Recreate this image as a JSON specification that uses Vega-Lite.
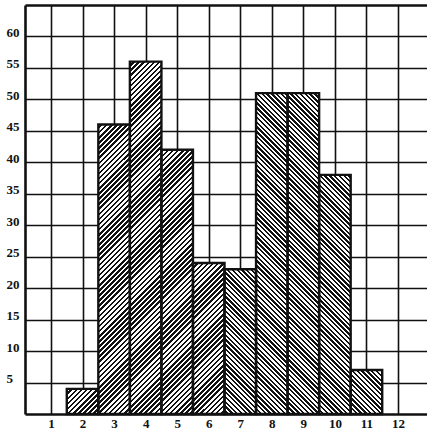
{
"$schema":"https://vega.github.io/schema/vega-lite/v6.json",
"width":402,"height":409,
"autosize":{"type":"none"},
"padding":{"left":25,"top":5,"right":0,"bottom":17},
"background":"#ffffff",
"config":{
 "view":{"stroke":null},
 "axis":{"labelFont":"Liberation Serif","labelFontWeight":"bold","labelFontSize":13,"labelColor":"#111","labelOverlap":false,"labelFlush":false,"labelBound":false,"ticks":false,"domainColor":"#111","domainWidth":2.6,"gridColor":"#111","gridOpacity":1,"gridWidth":1.6,"zindex":1},
 "axisX":{"labelPadding":3,"labelBaseline":"top"},
 "axisY":{"labelAlign":"left","labelPadding":19,"labelBaseline":"alphabetic"}
},
"resolve":{"axis":{"x":"independent","y":"independent"}},
"data":{"values":[
{"k":2,"lo":1.5,"hi":2.5,"n":4},
{"k":3,"lo":2.5,"hi":3.5,"n":46},
{"k":4,"lo":3.5,"hi":4.5,"n":56},
{"k":5,"lo":4.5,"hi":5.5,"n":42},
{"k":6,"lo":5.5,"hi":6.5,"n":24},
{"k":7,"lo":6.5,"hi":7.5,"n":23},
{"k":8,"lo":7.5,"hi":8.5,"n":51},
{"k":9,"lo":8.5,"hi":9.5,"n":51},
{"k":10,"lo":9.5,"hi":10.5,"n":38},
{"k":11,"lo":10.5,"hi":11.5,"n":7}
]},
"layer":[
{"mark":{"type":"rect","fill":"transparent","stroke":null},
 "encoding":{
  "x":{"field":"lo","type":"quantitative","scale":{"domain":[0.175,12.92],"nice":false,"zero":false},
       "axis":{"values":[1,2,3,4,5,6,7,8,9,10,11,12],"title":null,"grid":true,"labelOverlap":false}},
  "x2":{"field":"hi"},
  "y":{"field":"n","type":"quantitative","scale":{"domain":[0,65],"nice":false},
       "axis":{"values":[5,10,15,20,25,30,35,40,45,50,55,60,65],"title":null,"grid":true,"labelOverlap":false,"gridWidth":{"condition":{"test":"datum.value === 65","value":2.6},"value":1.6},"labelExpr":"datum.value === 65 ? '' : datum.label"}},
  "y2":{"datum":0}
 }},
{"transform":[{"filter":"datum.k <= 6"},{"fold":["lo","hi"],"as":["edge","xv"]}],
 "mark":{"type":"area","orient":"vertical","interpolate":"linear","fill":{"gradient":"linear","x1":0,"y1":0,"x2":0.5397,"y2":1.206,"stops":[
{"offset":0.11,"color":"#111"},{"offset":0.115,"color":"#111"},{"offset":0.115,"color":"#fff"},{"offset":0.12,"color":"#fff"},
{"offset":0.12,"color":"#111"},{"offset":0.125,"color":"#111"},{"offset":0.125,"color":"#fff"},{"offset":0.13,"color":"#fff"},
{"offset":0.13,"color":"#111"},{"offset":0.135,"color":"#111"},{"offset":0.135,"color":"#fff"},{"offset":0.14,"color":"#fff"},
{"offset":0.14,"color":"#111"},{"offset":0.145,"color":"#111"},{"offset":0.145,"color":"#fff"},{"offset":0.15,"color":"#fff"},
{"offset":0.15,"color":"#111"},{"offset":0.155,"color":"#111"},{"offset":0.155,"color":"#fff"},{"offset":0.16,"color":"#fff"},
{"offset":0.16,"color":"#111"},{"offset":0.165,"color":"#111"},{"offset":0.165,"color":"#fff"},{"offset":0.17,"color":"#fff"},
{"offset":0.17,"color":"#111"},{"offset":0.175,"color":"#111"},{"offset":0.175,"color":"#fff"},{"offset":0.18,"color":"#fff"},
{"offset":0.18,"color":"#111"},{"offset":0.185,"color":"#111"},{"offset":0.185,"color":"#fff"},{"offset":0.19,"color":"#fff"},
{"offset":0.19,"color":"#111"},{"offset":0.195,"color":"#111"},{"offset":0.195,"color":"#fff"},{"offset":0.20,"color":"#fff"},
{"offset":0.20,"color":"#111"},{"offset":0.205,"color":"#111"},{"offset":0.205,"color":"#fff"},{"offset":0.21,"color":"#fff"},
{"offset":0.21,"color":"#111"},{"offset":0.215,"color":"#111"},{"offset":0.215,"color":"#fff"},{"offset":0.22,"color":"#fff"},
{"offset":0.22,"color":"#111"},{"offset":0.225,"color":"#111"},{"offset":0.225,"color":"#fff"},{"offset":0.23,"color":"#fff"},
{"offset":0.23,"color":"#111"},{"offset":0.235,"color":"#111"},{"offset":0.235,"color":"#fff"},{"offset":0.24,"color":"#fff"},
{"offset":0.24,"color":"#111"},{"offset":0.245,"color":"#111"},{"offset":0.245,"color":"#fff"},{"offset":0.25,"color":"#fff"},
{"offset":0.25,"color":"#111"},{"offset":0.255,"color":"#111"},{"offset":0.255,"color":"#fff"},{"offset":0.26,"color":"#fff"},
{"offset":0.26,"color":"#111"},{"offset":0.265,"color":"#111"},{"offset":0.265,"color":"#fff"},{"offset":0.27,"color":"#fff"},
{"offset":0.27,"color":"#111"},{"offset":0.275,"color":"#111"},{"offset":0.275,"color":"#fff"},{"offset":0.28,"color":"#fff"},
{"offset":0.28,"color":"#111"},{"offset":0.285,"color":"#111"},{"offset":0.285,"color":"#fff"},{"offset":0.29,"color":"#fff"},
{"offset":0.29,"color":"#111"},{"offset":0.295,"color":"#111"},{"offset":0.295,"color":"#fff"},{"offset":0.30,"color":"#fff"},
{"offset":0.30,"color":"#111"},{"offset":0.305,"color":"#111"},{"offset":0.305,"color":"#fff"},{"offset":0.31,"color":"#fff"},
{"offset":0.31,"color":"#111"},{"offset":0.315,"color":"#111"},{"offset":0.315,"color":"#fff"},{"offset":0.32,"color":"#fff"},
{"offset":0.32,"color":"#111"},{"offset":0.325,"color":"#111"},{"offset":0.325,"color":"#fff"},{"offset":0.33,"color":"#fff"},
{"offset":0.33,"color":"#111"},{"offset":0.335,"color":"#111"},{"offset":0.335,"color":"#fff"},{"offset":0.34,"color":"#fff"},
{"offset":0.34,"color":"#111"},{"offset":0.345,"color":"#111"},{"offset":0.345,"color":"#fff"},{"offset":0.35,"color":"#fff"},
{"offset":0.35,"color":"#111"},{"offset":0.355,"color":"#111"},{"offset":0.355,"color":"#fff"},{"offset":0.36,"color":"#fff"},
{"offset":0.36,"color":"#111"},{"offset":0.365,"color":"#111"},{"offset":0.365,"color":"#fff"},{"offset":0.37,"color":"#fff"},
{"offset":0.37,"color":"#111"},{"offset":0.375,"color":"#111"},{"offset":0.375,"color":"#fff"},{"offset":0.38,"color":"#fff"},
{"offset":0.38,"color":"#111"},{"offset":0.385,"color":"#111"},{"offset":0.385,"color":"#fff"},{"offset":0.39,"color":"#fff"},
{"offset":0.39,"color":"#111"},{"offset":0.395,"color":"#111"},{"offset":0.395,"color":"#fff"},{"offset":0.40,"color":"#fff"},
{"offset":0.40,"color":"#111"},{"offset":0.405,"color":"#111"},{"offset":0.405,"color":"#fff"},{"offset":0.41,"color":"#fff"},
{"offset":0.41,"color":"#111"},{"offset":0.415,"color":"#111"},{"offset":0.415,"color":"#fff"},{"offset":0.42,"color":"#fff"},
{"offset":0.42,"color":"#111"},{"offset":0.425,"color":"#111"},{"offset":0.425,"color":"#fff"},{"offset":0.43,"color":"#fff"},
{"offset":0.43,"color":"#111"},{"offset":0.435,"color":"#111"},{"offset":0.435,"color":"#fff"},{"offset":0.44,"color":"#fff"},
{"offset":0.44,"color":"#111"},{"offset":0.445,"color":"#111"},{"offset":0.445,"color":"#fff"},{"offset":0.45,"color":"#fff"},
{"offset":0.45,"color":"#111"},{"offset":0.455,"color":"#111"},{"offset":0.455,"color":"#fff"},{"offset":0.46,"color":"#fff"},
{"offset":0.46,"color":"#111"},{"offset":0.465,"color":"#111"},{"offset":0.465,"color":"#fff"},{"offset":0.47,"color":"#fff"},
{"offset":0.47,"color":"#111"},{"offset":0.475,"color":"#111"},{"offset":0.475,"color":"#fff"},{"offset":0.48,"color":"#fff"},
{"offset":0.48,"color":"#111"},{"offset":0.485,"color":"#111"},{"offset":0.485,"color":"#fff"},{"offset":0.49,"color":"#fff"},
{"offset":0.49,"color":"#111"},{"offset":0.495,"color":"#111"},{"offset":0.495,"color":"#fff"},{"offset":0.50,"color":"#fff"},
{"offset":0.50,"color":"#111"},{"offset":0.505,"color":"#111"},{"offset":0.505,"color":"#fff"},{"offset":0.51,"color":"#fff"},
{"offset":0.51,"color":"#111"},{"offset":0.515,"color":"#111"},{"offset":0.515,"color":"#fff"},{"offset":0.52,"color":"#fff"},
{"offset":0.52,"color":"#111"},{"offset":0.525,"color":"#111"},{"offset":0.525,"color":"#fff"},{"offset":0.53,"color":"#fff"},
{"offset":0.53,"color":"#111"},{"offset":0.535,"color":"#111"},{"offset":0.535,"color":"#fff"},{"offset":0.54,"color":"#fff"},
{"offset":0.54,"color":"#111"},{"offset":0.545,"color":"#111"},{"offset":0.545,"color":"#fff"},{"offset":0.55,"color":"#fff"},
{"offset":0.55,"color":"#111"},{"offset":0.555,"color":"#111"},{"offset":0.555,"color":"#fff"},{"offset":0.56,"color":"#fff"},
{"offset":0.56,"color":"#111"},{"offset":0.565,"color":"#111"},{"offset":0.565,"color":"#fff"},{"offset":0.57,"color":"#fff"},
{"offset":0.57,"color":"#111"},{"offset":0.575,"color":"#111"},{"offset":0.575,"color":"#fff"},{"offset":0.58,"color":"#fff"},
{"offset":0.58,"color":"#111"},{"offset":0.585,"color":"#111"},{"offset":0.585,"color":"#fff"},{"offset":0.59,"color":"#fff"},
{"offset":0.59,"color":"#111"},{"offset":0.595,"color":"#111"},{"offset":0.595,"color":"#fff"},{"offset":0.60,"color":"#fff"},
{"offset":0.60,"color":"#111"},{"offset":0.605,"color":"#111"},{"offset":0.605,"color":"#fff"},{"offset":0.61,"color":"#fff"},
{"offset":0.61,"color":"#111"},{"offset":0.615,"color":"#111"},{"offset":0.615,"color":"#fff"},{"offset":0.62,"color":"#fff"},
{"offset":0.62,"color":"#111"},{"offset":0.625,"color":"#111"},{"offset":0.625,"color":"#fff"},{"offset":0.63,"color":"#fff"},
{"offset":0.63,"color":"#111"},{"offset":0.635,"color":"#111"},{"offset":0.635,"color":"#fff"},{"offset":0.64,"color":"#fff"},
{"offset":0.64,"color":"#111"},{"offset":0.645,"color":"#111"},{"offset":0.645,"color":"#fff"},{"offset":0.65,"color":"#fff"},
{"offset":0.65,"color":"#111"},{"offset":0.655,"color":"#111"},{"offset":0.655,"color":"#fff"},{"offset":0.66,"color":"#fff"},
{"offset":0.66,"color":"#111"},{"offset":0.665,"color":"#111"},{"offset":0.665,"color":"#fff"},{"offset":0.67,"color":"#fff"},
{"offset":0.67,"color":"#111"},{"offset":0.675,"color":"#111"},{"offset":0.675,"color":"#fff"},{"offset":0.68,"color":"#fff"},
{"offset":0.68,"color":"#111"},{"offset":0.685,"color":"#111"},{"offset":0.685,"color":"#fff"},{"offset":0.69,"color":"#fff"},
{"offset":0.69,"color":"#111"},{"offset":0.695,"color":"#111"},{"offset":0.695,"color":"#fff"},{"offset":0.70,"color":"#fff"},
{"offset":0.70,"color":"#111"},{"offset":0.705,"color":"#111"},{"offset":0.705,"color":"#fff"},{"offset":0.71,"color":"#fff"},
{"offset":0.71,"color":"#111"},{"offset":0.715,"color":"#111"},{"offset":0.715,"color":"#fff"},{"offset":0.72,"color":"#fff"},
{"offset":0.72,"color":"#111"},{"offset":0.725,"color":"#111"},{"offset":0.725,"color":"#fff"},{"offset":0.73,"color":"#fff"},
{"offset":0.73,"color":"#111"},{"offset":0.735,"color":"#111"},{"offset":0.735,"color":"#fff"},{"offset":0.74,"color":"#fff"},
{"offset":0.74,"color":"#111"},{"offset":0.745,"color":"#111"},{"offset":0.745,"color":"#fff"},{"offset":0.75,"color":"#fff"},
{"offset":0.75,"color":"#111"},{"offset":0.755,"color":"#111"},{"offset":0.755,"color":"#fff"},{"offset":0.76,"color":"#fff"},
{"offset":0.76,"color":"#111"},{"offset":0.765,"color":"#111"},{"offset":0.765,"color":"#fff"},{"offset":0.77,"color":"#fff"},
{"offset":0.77,"color":"#111"},{"offset":0.775,"color":"#111"},{"offset":0.775,"color":"#fff"},{"offset":0.78,"color":"#fff"},
{"offset":0.78,"color":"#111"},{"offset":0.785,"color":"#111"},{"offset":0.785,"color":"#fff"},{"offset":0.79,"color":"#fff"},
{"offset":0.79,"color":"#111"},{"offset":0.795,"color":"#111"},{"offset":0.795,"color":"#fff"},{"offset":0.80,"color":"#fff"},
{"offset":0.80,"color":"#111"},{"offset":0.805,"color":"#111"},{"offset":0.805,"color":"#fff"},{"offset":0.81,"color":"#fff"},
{"offset":0.81,"color":"#111"},{"offset":0.815,"color":"#111"},{"offset":0.815,"color":"#fff"},{"offset":0.82,"color":"#fff"},
{"offset":0.82,"color":"#111"},{"offset":0.825,"color":"#111"},{"offset":0.825,"color":"#fff"},{"offset":0.83,"color":"#fff"},
{"offset":0.83,"color":"#111"},{"offset":0.835,"color":"#111"},{"offset":0.835,"color":"#fff"},{"offset":0.84,"color":"#fff"},
{"offset":0.84,"color":"#111"},{"offset":0.845,"color":"#111"},{"offset":0.845,"color":"#fff"},{"offset":0.85,"color":"#fff"},
{"offset":0.85,"color":"#111"},{"offset":0.855,"color":"#111"},{"offset":0.855,"color":"#fff"},{"offset":0.86,"color":"#fff"},
{"offset":0.86,"color":"#111"},{"offset":0.865,"color":"#111"},{"offset":0.865,"color":"#fff"},{"offset":0.87,"color":"#fff"},
{"offset":0.87,"color":"#111"},{"offset":0.875,"color":"#111"},{"offset":0.875,"color":"#fff"},{"offset":0.88,"color":"#fff"},
{"offset":0.88,"color":"#111"},{"offset":0.885,"color":"#111"},{"offset":0.885,"color":"#fff"},{"offset":0.89,"color":"#fff"},
{"offset":0.89,"color":"#111"},{"offset":0.895,"color":"#111"},{"offset":0.895,"color":"#fff"},{"offset":0.90,"color":"#fff"},
{"offset":0.90,"color":"#111"},{"offset":0.905,"color":"#111"},{"offset":0.905,"color":"#fff"},{"offset":0.91,"color":"#fff"},
{"offset":0.91,"color":"#111"},{"offset":0.915,"color":"#111"},{"offset":0.915,"color":"#fff"},{"offset":0.92,"color":"#fff"},
{"offset":0.92,"color":"#111"},{"offset":0.925,"color":"#111"},{"offset":0.925,"color":"#fff"},{"offset":0.93,"color":"#fff"},
{"offset":0.93,"color":"#111"},{"offset":0.935,"color":"#111"},{"offset":0.935,"color":"#fff"},{"offset":0.94,"color":"#fff"},
{"offset":0.94,"color":"#111"},{"offset":0.945,"color":"#111"},{"offset":0.945,"color":"#fff"},{"offset":0.95,"color":"#fff"},
{"offset":0.95,"color":"#111"},{"offset":0.955,"color":"#111"},{"offset":0.955,"color":"#fff"},{"offset":0.96,"color":"#fff"},
{"offset":0.96,"color":"#111"},{"offset":0.965,"color":"#111"},{"offset":0.965,"color":"#fff"},{"offset":0.97,"color":"#fff"},
{"offset":0.97,"color":"#111"},{"offset":0.975,"color":"#111"},{"offset":0.975,"color":"#fff"},{"offset":0.98,"color":"#fff"},
{"offset":0.98,"color":"#111"},{"offset":0.985,"color":"#111"},{"offset":0.985,"color":"#fff"},{"offset":0.99,"color":"#fff"},
{"offset":0.99,"color":"#111"},{"offset":0.995,"color":"#111"},{"offset":0.995,"color":"#fff"},{"offset":1,"color":"#fff"}
]}},
 "encoding":{
  "x":{"field":"xv","type":"quantitative","axis":null},
  "y":{"field":"n","type":"quantitative","stack":null,"axis":null},
  "order":{"value":null}
 }},
{"transform":[{"filter":"datum.k >= 7"},{"fold":["lo","hi"],"as":["edge","xv"]}],
 "mark":{"type":"area","orient":"vertical","interpolate":"linear","fill":{"gradient":"linear","x1":1,"y1":0,"x2":0.4096,"y2":1.2014,"stops":[
{"offset":0.12,"color":"#111"},{"offset":0.125,"color":"#111"},{"offset":0.125,"color":"#fff"},{"offset":0.13,"color":"#fff"},
{"offset":0.13,"color":"#111"},{"offset":0.135,"color":"#111"},{"offset":0.135,"color":"#fff"},{"offset":0.14,"color":"#fff"},
{"offset":0.14,"color":"#111"},{"offset":0.145,"color":"#111"},{"offset":0.145,"color":"#fff"},{"offset":0.15,"color":"#fff"},
{"offset":0.15,"color":"#111"},{"offset":0.155,"color":"#111"},{"offset":0.155,"color":"#fff"},{"offset":0.16,"color":"#fff"},
{"offset":0.16,"color":"#111"},{"offset":0.165,"color":"#111"},{"offset":0.165,"color":"#fff"},{"offset":0.17,"color":"#fff"},
{"offset":0.17,"color":"#111"},{"offset":0.175,"color":"#111"},{"offset":0.175,"color":"#fff"},{"offset":0.18,"color":"#fff"},
{"offset":0.18,"color":"#111"},{"offset":0.185,"color":"#111"},{"offset":0.185,"color":"#fff"},{"offset":0.19,"color":"#fff"},
{"offset":0.19,"color":"#111"},{"offset":0.195,"color":"#111"},{"offset":0.195,"color":"#fff"},{"offset":0.20,"color":"#fff"},
{"offset":0.20,"color":"#111"},{"offset":0.205,"color":"#111"},{"offset":0.205,"color":"#fff"},{"offset":0.21,"color":"#fff"},
{"offset":0.21,"color":"#111"},{"offset":0.215,"color":"#111"},{"offset":0.215,"color":"#fff"},{"offset":0.22,"color":"#fff"},
{"offset":0.22,"color":"#111"},{"offset":0.225,"color":"#111"},{"offset":0.225,"color":"#fff"},{"offset":0.23,"color":"#fff"},
{"offset":0.23,"color":"#111"},{"offset":0.235,"color":"#111"},{"offset":0.235,"color":"#fff"},{"offset":0.24,"color":"#fff"},
{"offset":0.24,"color":"#111"},{"offset":0.245,"color":"#111"},{"offset":0.245,"color":"#fff"},{"offset":0.25,"color":"#fff"},
{"offset":0.25,"color":"#111"},{"offset":0.255,"color":"#111"},{"offset":0.255,"color":"#fff"},{"offset":0.26,"color":"#fff"},
{"offset":0.26,"color":"#111"},{"offset":0.265,"color":"#111"},{"offset":0.265,"color":"#fff"},{"offset":0.27,"color":"#fff"},
{"offset":0.27,"color":"#111"},{"offset":0.275,"color":"#111"},{"offset":0.275,"color":"#fff"},{"offset":0.28,"color":"#fff"},
{"offset":0.28,"color":"#111"},{"offset":0.285,"color":"#111"},{"offset":0.285,"color":"#fff"},{"offset":0.29,"color":"#fff"},
{"offset":0.29,"color":"#111"},{"offset":0.295,"color":"#111"},{"offset":0.295,"color":"#fff"},{"offset":0.30,"color":"#fff"},
{"offset":0.30,"color":"#111"},{"offset":0.305,"color":"#111"},{"offset":0.305,"color":"#fff"},{"offset":0.31,"color":"#fff"},
{"offset":0.31,"color":"#111"},{"offset":0.315,"color":"#111"},{"offset":0.315,"color":"#fff"},{"offset":0.32,"color":"#fff"},
{"offset":0.32,"color":"#111"},{"offset":0.325,"color":"#111"},{"offset":0.325,"color":"#fff"},{"offset":0.33,"color":"#fff"},
{"offset":0.33,"color":"#111"},{"offset":0.335,"color":"#111"},{"offset":0.335,"color":"#fff"},{"offset":0.34,"color":"#fff"},
{"offset":0.34,"color":"#111"},{"offset":0.345,"color":"#111"},{"offset":0.345,"color":"#fff"},{"offset":0.35,"color":"#fff"},
{"offset":0.35,"color":"#111"},{"offset":0.355,"color":"#111"},{"offset":0.355,"color":"#fff"},{"offset":0.36,"color":"#fff"},
{"offset":0.36,"color":"#111"},{"offset":0.365,"color":"#111"},{"offset":0.365,"color":"#fff"},{"offset":0.37,"color":"#fff"},
{"offset":0.37,"color":"#111"},{"offset":0.375,"color":"#111"},{"offset":0.375,"color":"#fff"},{"offset":0.38,"color":"#fff"},
{"offset":0.38,"color":"#111"},{"offset":0.385,"color":"#111"},{"offset":0.385,"color":"#fff"},{"offset":0.39,"color":"#fff"},
{"offset":0.39,"color":"#111"},{"offset":0.395,"color":"#111"},{"offset":0.395,"color":"#fff"},{"offset":0.40,"color":"#fff"},
{"offset":0.40,"color":"#111"},{"offset":0.405,"color":"#111"},{"offset":0.405,"color":"#fff"},{"offset":0.41,"color":"#fff"},
{"offset":0.41,"color":"#111"},{"offset":0.415,"color":"#111"},{"offset":0.415,"color":"#fff"},{"offset":0.42,"color":"#fff"},
{"offset":0.42,"color":"#111"},{"offset":0.425,"color":"#111"},{"offset":0.425,"color":"#fff"},{"offset":0.43,"color":"#fff"},
{"offset":0.43,"color":"#111"},{"offset":0.435,"color":"#111"},{"offset":0.435,"color":"#fff"},{"offset":0.44,"color":"#fff"},
{"offset":0.44,"color":"#111"},{"offset":0.445,"color":"#111"},{"offset":0.445,"color":"#fff"},{"offset":0.45,"color":"#fff"},
{"offset":0.45,"color":"#111"},{"offset":0.455,"color":"#111"},{"offset":0.455,"color":"#fff"},{"offset":0.46,"color":"#fff"},
{"offset":0.46,"color":"#111"},{"offset":0.465,"color":"#111"},{"offset":0.465,"color":"#fff"},{"offset":0.47,"color":"#fff"},
{"offset":0.47,"color":"#111"},{"offset":0.475,"color":"#111"},{"offset":0.475,"color":"#fff"},{"offset":0.48,"color":"#fff"},
{"offset":0.48,"color":"#111"},{"offset":0.485,"color":"#111"},{"offset":0.485,"color":"#fff"},{"offset":0.49,"color":"#fff"},
{"offset":0.49,"color":"#111"},{"offset":0.495,"color":"#111"},{"offset":0.495,"color":"#fff"},{"offset":0.50,"color":"#fff"},
{"offset":0.50,"color":"#111"},{"offset":0.505,"color":"#111"},{"offset":0.505,"color":"#fff"},{"offset":0.51,"color":"#fff"},
{"offset":0.51,"color":"#111"},{"offset":0.515,"color":"#111"},{"offset":0.515,"color":"#fff"},{"offset":0.52,"color":"#fff"},
{"offset":0.52,"color":"#111"},{"offset":0.525,"color":"#111"},{"offset":0.525,"color":"#fff"},{"offset":0.53,"color":"#fff"},
{"offset":0.53,"color":"#111"},{"offset":0.535,"color":"#111"},{"offset":0.535,"color":"#fff"},{"offset":0.54,"color":"#fff"},
{"offset":0.54,"color":"#111"},{"offset":0.545,"color":"#111"},{"offset":0.545,"color":"#fff"},{"offset":0.55,"color":"#fff"},
{"offset":0.55,"color":"#111"},{"offset":0.555,"color":"#111"},{"offset":0.555,"color":"#fff"},{"offset":0.56,"color":"#fff"},
{"offset":0.56,"color":"#111"},{"offset":0.565,"color":"#111"},{"offset":0.565,"color":"#fff"},{"offset":0.57,"color":"#fff"},
{"offset":0.57,"color":"#111"},{"offset":0.575,"color":"#111"},{"offset":0.575,"color":"#fff"},{"offset":0.58,"color":"#fff"},
{"offset":0.58,"color":"#111"},{"offset":0.585,"color":"#111"},{"offset":0.585,"color":"#fff"},{"offset":0.59,"color":"#fff"},
{"offset":0.59,"color":"#111"},{"offset":0.595,"color":"#111"},{"offset":0.595,"color":"#fff"},{"offset":0.60,"color":"#fff"},
{"offset":0.60,"color":"#111"},{"offset":0.605,"color":"#111"},{"offset":0.605,"color":"#fff"},{"offset":0.61,"color":"#fff"},
{"offset":0.61,"color":"#111"},{"offset":0.615,"color":"#111"},{"offset":0.615,"color":"#fff"},{"offset":0.62,"color":"#fff"},
{"offset":0.62,"color":"#111"},{"offset":0.625,"color":"#111"},{"offset":0.625,"color":"#fff"},{"offset":0.63,"color":"#fff"},
{"offset":0.63,"color":"#111"},{"offset":0.635,"color":"#111"},{"offset":0.635,"color":"#fff"},{"offset":0.64,"color":"#fff"},
{"offset":0.64,"color":"#111"},{"offset":0.645,"color":"#111"},{"offset":0.645,"color":"#fff"},{"offset":0.65,"color":"#fff"},
{"offset":0.65,"color":"#111"},{"offset":0.655,"color":"#111"},{"offset":0.655,"color":"#fff"},{"offset":0.66,"color":"#fff"},
{"offset":0.66,"color":"#111"},{"offset":0.665,"color":"#111"},{"offset":0.665,"color":"#fff"},{"offset":0.67,"color":"#fff"},
{"offset":0.67,"color":"#111"},{"offset":0.675,"color":"#111"},{"offset":0.675,"color":"#fff"},{"offset":0.68,"color":"#fff"},
{"offset":0.68,"color":"#111"},{"offset":0.685,"color":"#111"},{"offset":0.685,"color":"#fff"},{"offset":0.69,"color":"#fff"},
{"offset":0.69,"color":"#111"},{"offset":0.695,"color":"#111"},{"offset":0.695,"color":"#fff"},{"offset":0.70,"color":"#fff"},
{"offset":0.70,"color":"#111"},{"offset":0.705,"color":"#111"},{"offset":0.705,"color":"#fff"},{"offset":0.71,"color":"#fff"},
{"offset":0.71,"color":"#111"},{"offset":0.715,"color":"#111"},{"offset":0.715,"color":"#fff"},{"offset":0.72,"color":"#fff"},
{"offset":0.72,"color":"#111"},{"offset":0.725,"color":"#111"},{"offset":0.725,"color":"#fff"},{"offset":0.73,"color":"#fff"},
{"offset":0.73,"color":"#111"},{"offset":0.735,"color":"#111"},{"offset":0.735,"color":"#fff"},{"offset":0.74,"color":"#fff"},
{"offset":0.74,"color":"#111"},{"offset":0.745,"color":"#111"},{"offset":0.745,"color":"#fff"},{"offset":0.75,"color":"#fff"},
{"offset":0.75,"color":"#111"},{"offset":0.755,"color":"#111"},{"offset":0.755,"color":"#fff"},{"offset":0.76,"color":"#fff"},
{"offset":0.76,"color":"#111"},{"offset":0.765,"color":"#111"},{"offset":0.765,"color":"#fff"},{"offset":0.77,"color":"#fff"},
{"offset":0.77,"color":"#111"},{"offset":0.775,"color":"#111"},{"offset":0.775,"color":"#fff"},{"offset":0.78,"color":"#fff"},
{"offset":0.78,"color":"#111"},{"offset":0.785,"color":"#111"},{"offset":0.785,"color":"#fff"},{"offset":0.79,"color":"#fff"},
{"offset":0.79,"color":"#111"},{"offset":0.795,"color":"#111"},{"offset":0.795,"color":"#fff"},{"offset":0.80,"color":"#fff"},
{"offset":0.80,"color":"#111"},{"offset":0.805,"color":"#111"},{"offset":0.805,"color":"#fff"},{"offset":0.81,"color":"#fff"},
{"offset":0.81,"color":"#111"},{"offset":0.815,"color":"#111"},{"offset":0.815,"color":"#fff"},{"offset":0.82,"color":"#fff"},
{"offset":0.82,"color":"#111"},{"offset":0.825,"color":"#111"},{"offset":0.825,"color":"#fff"},{"offset":0.83,"color":"#fff"},
{"offset":0.83,"color":"#111"},{"offset":0.835,"color":"#111"},{"offset":0.835,"color":"#fff"},{"offset":0.84,"color":"#fff"},
{"offset":0.84,"color":"#111"},{"offset":0.845,"color":"#111"},{"offset":0.845,"color":"#fff"},{"offset":0.85,"color":"#fff"},
{"offset":0.85,"color":"#111"},{"offset":0.855,"color":"#111"},{"offset":0.855,"color":"#fff"},{"offset":0.86,"color":"#fff"},
{"offset":0.86,"color":"#111"},{"offset":0.865,"color":"#111"},{"offset":0.865,"color":"#fff"},{"offset":0.87,"color":"#fff"},
{"offset":0.87,"color":"#111"},{"offset":0.875,"color":"#111"},{"offset":0.875,"color":"#fff"},{"offset":0.88,"color":"#fff"},
{"offset":0.88,"color":"#111"},{"offset":0.885,"color":"#111"},{"offset":0.885,"color":"#fff"},{"offset":0.89,"color":"#fff"},
{"offset":0.89,"color":"#111"},{"offset":0.895,"color":"#111"},{"offset":0.895,"color":"#fff"},{"offset":0.90,"color":"#fff"},
{"offset":0.90,"color":"#111"},{"offset":0.905,"color":"#111"},{"offset":0.905,"color":"#fff"},{"offset":0.91,"color":"#fff"},
{"offset":0.91,"color":"#111"},{"offset":0.915,"color":"#111"},{"offset":0.915,"color":"#fff"},{"offset":0.92,"color":"#fff"},
{"offset":0.92,"color":"#111"},{"offset":0.925,"color":"#111"},{"offset":0.925,"color":"#fff"},{"offset":0.93,"color":"#fff"},
{"offset":0.93,"color":"#111"},{"offset":0.935,"color":"#111"},{"offset":0.935,"color":"#fff"},{"offset":0.94,"color":"#fff"},
{"offset":0.94,"color":"#111"},{"offset":0.945,"color":"#111"},{"offset":0.945,"color":"#fff"},{"offset":0.95,"color":"#fff"},
{"offset":0.95,"color":"#111"},{"offset":0.955,"color":"#111"},{"offset":0.955,"color":"#fff"},{"offset":0.96,"color":"#fff"},
{"offset":0.96,"color":"#111"},{"offset":0.965,"color":"#111"},{"offset":0.965,"color":"#fff"},{"offset":0.97,"color":"#fff"},
{"offset":0.97,"color":"#111"},{"offset":0.975,"color":"#111"},{"offset":0.975,"color":"#fff"},{"offset":0.98,"color":"#fff"},
{"offset":0.98,"color":"#111"},{"offset":0.985,"color":"#111"},{"offset":0.985,"color":"#fff"},{"offset":0.99,"color":"#fff"},
{"offset":0.99,"color":"#111"},{"offset":0.995,"color":"#111"},{"offset":0.995,"color":"#fff"},{"offset":1,"color":"#fff"}
]}},
 "encoding":{
  "x":{"field":"xv","type":"quantitative","axis":null},
  "y":{"field":"n","type":"quantitative","stack":null,"axis":null},
  "order":{"value":null}
 }},
{"mark":{"type":"rect","fill":"transparent","stroke":"#111","strokeWidth":2.4},
 "encoding":{
  "x":{"field":"lo","type":"quantitative","axis":null},
  "x2":{"field":"hi"},
  "y":{"field":"n","type":"quantitative","axis":null},
  "y2":{"datum":0}
 }}
]
}
